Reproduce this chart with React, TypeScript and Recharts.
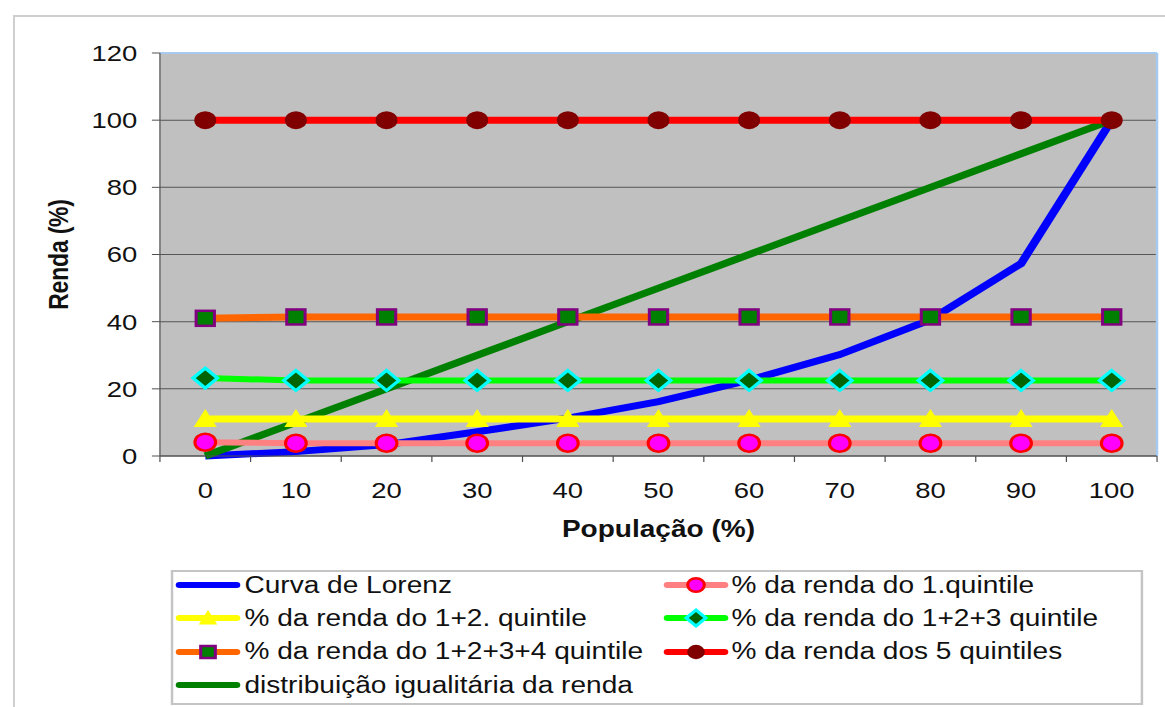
import React from "react";
import {
    LineChart,
    Line,
    XAxis,
    YAxis,
    CartesianGrid,
    ReferenceLine,
    Label,
} from "recharts";

// the reference picture is stretched sideways, so the chart is drawn narrower and scaled
const STRETCH = 1.22;
const W = 955;
const H = 707;
const FONT = '"Liberation Sans", Arial, sans-serif';

const population = [0, 10, 20, 30, 40, 50, 60, 70, 80, 90, 100];
const curvaLorenz = [0, 1.3, 3.4, 7.2, 11.3, 16.2, 22.6, 30.2, 40.6, 57.3, 100];
const quintil1 = [4.1, 3.8, 3.8, 3.8, 3.8, 3.8, 3.8, 3.8, 3.8, 3.8, 3.8];
const quintil12 = [11, 11, 11, 11, 11, 11, 11, 11, 11, 11, 11];
const quintil123 = [23.2, 22.5, 22.5, 22.5, 22.5, 22.5, 22.5, 22.5, 22.5, 22.5, 22.5];
const quintil1234 = [41, 41.4, 41.4, 41.4, 41.4, 41.4, 41.4, 41.4, 41.4, 41.4, 41.4];
const quintil5 = [100, 100, 100, 100, 100, 100, 100, 100, 100, 100, 100];
const igualitaria = [0, 10, 20, 30, 40, 50, 60, 70, 80, 90, 100];

const yTicks = [0, 20, 40, 60, 80, 100, 120];
// centre values get a label, the in-between values get a tick mark
const xTicks = [-5, 0, 5, 10, 15, 20, 25, 30, 35, 40, 45, 50, 55, 60, 65, 70, 75, 80, 85, 90, 95, 100, 105];

const data = population.map((p, i) => ({
    pop: p,
    lorenz: curvaLorenz[i],
    q1: quintil1[i],
    q12: quintil12[i],
    q123: quintil123[i],
    q1234: quintil1234[i],
    q5: quintil5[i],
    igual: igualitaria[i],
}));

type Shape = "none" | "pinkCircle" | "triangle" | "diamond" | "square" | "darkCircle";

function Marker({ shape, cx, cy, s = 1 }: { shape: Shape; cx: number; cy: number; s?: number }) {
    switch (shape) {
        case "pinkCircle":
            return <circle cx={cx} cy={cy} r={8.5 * s} fill="#ff00ff" stroke="#ff0000" strokeWidth={2.5} />;
        case "darkCircle":
            return <circle cx={cx} cy={cy} r={9 * s} fill="#800000" />;
        case "triangle":
            return (
                <polygon
                    points={`${cx},${cy - 10 * s} ${cx - 9.5 * s},${cy + 8 * s} ${cx + 9.5 * s},${cy + 8 * s}`}
                    fill="#ffff00"
                />
            );
        case "diamond":
            return (
                <polygon
                    points={`${cx},${cy - 10 * s} ${cx + 10 * s},${cy} ${cx},${cy + 10 * s} ${cx - 10 * s},${cy}`}
                    fill="#006400"
                    stroke="#00ffff"
                    strokeWidth={3}
                />
            );
        case "square":
            return (
                <rect
                    x={cx - 7.5 * s}
                    y={cy - 7.5 * s}
                    width={15 * s}
                    height={15 * s}
                    fill="#008000"
                    stroke="#800080"
                    strokeWidth={2.5}
                />
            );
        default:
            return null;
    }
}

const dotOf = (shape: Shape) => (p: any) => (
    <g key={`${shape}-${p.index}`}>
        <Marker shape={shape} cx={p.cx} cy={p.cy} />
    </g>
);

const series = [
    { key: "lorenz", name: "Curva de Lorenz", color: "#0000ff", width: 7, shape: "none" as Shape },
    { key: "igual", name: "distribuição igualitária da renda", color: "#008000", width: 7, shape: "none" as Shape },
    { key: "q1", name: "% da renda do 1.quintile", color: "#ff8080", width: 6, shape: "pinkCircle" as Shape },
    { key: "q12", name: "% da renda do 1+2. quintile", color: "#ffff00", width: 7, shape: "triangle" as Shape },
    { key: "q123", name: "% da renda do 1+2+3 quintile", color: "#00ff00", width: 6, shape: "diamond" as Shape },
    { key: "q1234", name: "% da renda do 1+2+3+4 quintile", color: "#ff6600", width: 7, shape: "square" as Shape },
    { key: "q5", name: "% da renda dos 5 quintiles", color: "#ff0000", width: 7, shape: "darkCircle" as Shape },
];

// legend order as in the picture, row by row
const legendRows = [
    ["lorenz", "q1"],
    ["q12", "q123"],
    ["q1234", "q5"],
    ["igual"],
];

function XTick(props: any) {
    const { x, y, payload } = props;
    const v = payload.value;
    if (v % 10 !== 0) {
        return <line x1={x} x2={x} y1={y} y2={y + 6} stroke="#505050" strokeWidth={1} />;
    }
    return (
        <text x={x} y={y + 42} textAnchor="middle" fontSize={22.5} fontFamily={FONT} fill="#111">
            {v}
        </text>
    );
}

function LegendItem({ k }: { k: string }) {
    const s = series.find((d) => d.key === k)!;
    return (
        <div style={{ display: "flex", alignItems: "center", height: 30 }}>
            <svg width={55} height={24} style={{ flex: "none" }}>
                <line x1={4} x2={51} y1={12} y2={12} stroke={s.color} strokeWidth={6} strokeLinecap="round" />
                <Marker shape={s.shape} cx={27.5} cy={12} s={0.8} />
            </svg>
            <span style={{ marginLeft: 2, whiteSpace: "nowrap" }}>{s.name}</span>
        </div>
    );
}

export default function App() {
    return (
        <div style={{ position: "absolute", left: 0, top: 0, width: 1165, height: 707, background: "#fff", overflow: "hidden" }}>
            <div
                style={{
                    position: "absolute",
                    left: 13,
                    top: 15,
                    width: 1152,
                    height: 692,
                    borderTop: "2px solid #cfcfcf",
                    borderLeft: "2px solid #cfcfcf",
                }}
            />
            <div
                style={{
                    position: "absolute",
                    left: 0,
                    top: 0,
                    width: W,
                    height: H,
                    transform: `scaleX(${STRETCH})`,
                    transformOrigin: "0 0",
                }}
            >
                <LineChart width={W} height={H} data={data} margin={{ top: 53, right: 6.6, bottom: 161, left: 0 }}>
                    <CartesianGrid vertical={false} fill="#c0c0c0" fillOpacity={1} stroke="#555" strokeWidth={1} />
                    <XAxis
                        dataKey="pop"
                        type="number"
                        domain={[-5, 105]}
                        ticks={xTicks}
                        interval={0}
                        tickLine={false}
                        tickSize={0}
                        tickMargin={0}
                        tick={<XTick />}
                        height={90}
                        axisLine={{ stroke: "#505050", strokeWidth: 1 }}
                    >
                        <Label
                            content={(p: any) => {
                                const vb = p.viewBox;
                                return (
                                    <text
                                        x={vb.x + vb.width / 2}
                                        y={vb.y + 81}
                                        textAnchor="middle"
                                        fontSize={23}
                                        fontWeight="bold"
                                        fontFamily={FONT}
                                        fill="#111"
                                    >
                                        População (%)
                                    </text>
                                );
                            }}
                        />
                    </XAxis>
                    <YAxis
                        type="number"
                        domain={[0, 120]}
                        ticks={yTicks}
                        width={131.1}
                        tickSize={6.6}
                        tickMargin={12}
                        tickLine={{ stroke: "#505050" }}
                        axisLine={{ stroke: "#505050", strokeWidth: 1 }}
                        tick={{ fontSize: 22.5, fontFamily: FONT, fill: "#111" }}
                    >
                        <Label
                            content={(p: any) => {
                                const vb = p.viewBox;
                                const cx = vb.x + 48;
                                const cy = vb.y + vb.height / 2;
                                return (
                                    <text
                                        x={cx}
                                        y={cy}
                                        transform={`rotate(-90 ${cx} ${cy})`}
                                        textAnchor="middle"
                                        dominantBaseline="central"
                                        fontSize={23}
                                        fontWeight="bold"
                                        fontFamily={FONT}
                                        fill="#111"
                                        letterSpacing={-0.2}
                                    >
                                        Renda (%)
                                    </text>
                                );
                            }}
                        />
                    </YAxis>
                    <ReferenceLine y={120} stroke="#a6caf0" strokeWidth={2} />
                    <ReferenceLine x={105} stroke="#a6caf0" strokeWidth={2} />
                    {series.map((s) => (
                        <Line
                            key={s.key}
                            type="linear"
                            dataKey={s.key}
                            name={s.name}
                            stroke={s.color}
                            strokeWidth={s.width}
                            dot={s.shape === "none" ? false : dotOf(s.shape)}
                            activeDot={false}
                            isAnimationActive={false}
                        />
                    ))}
                </LineChart>
                <div
                    style={{
                        position: "absolute",
                        left: 140.2,
                        top: 570,
                        width: 796.7,
                        height: 135,
                        border: "2px solid #c4c4c4",
                        boxSizing: "border-box",
                        background: "#fff",
                        fontFamily: FONT,
                        fontSize: 23,
                        color: "#111",
                    }}
                >
                    {legendRows.map((row, i) =>
                        row.map((k, j) => (
                            <div
                                key={k}
                                style={{ position: "absolute", top: -2 + i * 33.4, left: j === 0 ? 1.2 : 400.4 }}
                            >
                                <LegendItem k={k} />
                            </div>
                        ))
                    )}
                </div>
            </div>
        </div>
    );
}
